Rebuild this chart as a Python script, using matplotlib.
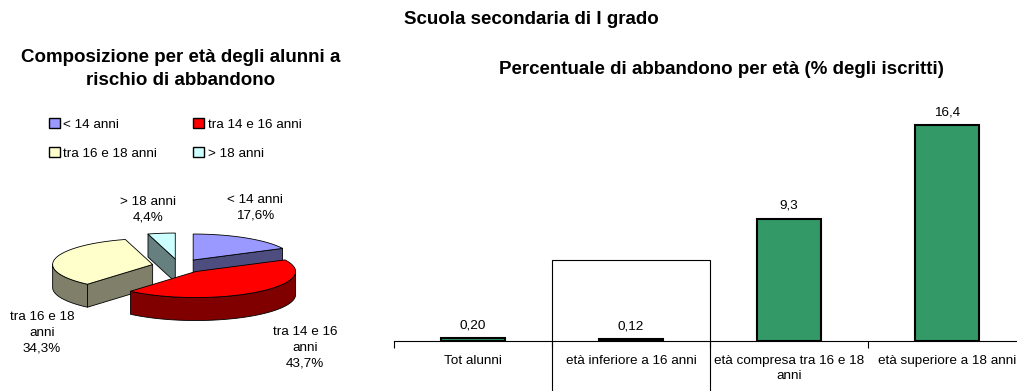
import matplotlib.pyplot as plt
from matplotlib.patches import Polygon, Patch, Rectangle
import numpy as np

plt.rcParams['font.family'] = ['Liberation Sans', 'DejaVu Sans']

# age composition of pupils at risk of dropping out
age_groups = ["< 14 anni", "tra 14 e 16 anni", "tra 16 e 18 anni", "> 18 anni"]
age_names = ["< 14 anni", "tra 14 e 16\nanni", "tra 16 e 18\nanni", "> 18 anni"]
age_shares = [17.6, 43.7, 34.3, 4.4]

# dropout rate by age (% of enrolled)
rate_cats = ["Tot alunni", "età inferiore a 16 anni",
             "età compresa tra 16 e 18\nanni", "età superiore a 18 anni"]
rate_values = [0.20, 0.12, 9.3, 16.4]
rate_labels = ["0,20", "0,12", "9,3", "16,4"]

top_colors = ["#9999FF", "#FF0000", "#FFFFCC", "#CCFFFF"]
side_colors = ["#4D4D80", "#800000", "#80806A", "#668080"]
bar_color = "#339966"

W, H = 1017, 391
SMALL = 9.7
TITLE = 13.5
fig = plt.figure(figsize=(W / 100, H / 100), dpi=100)

# ---- 3D exploded pie, drawn in pixel units ----
ax_pie = fig.add_axes([0, 0, 0.37, 1])
ax_pie.set_xlim(0, 0.37 * W)
ax_pie.set_ylim(H, 0)
ax_pie.axis("off")

CX, CY = 179, 266      # pie centre
RX, RY = 100, 26       # tilted ellipse radii
DEPTH = 23
EXPLODE = 0.27


def proj(u, v, down=0.0):
    return CX + RX * u, CY - RY * v + down


shares = np.array(age_shares)
edges = np.concatenate([[0], np.cumsum(shares)]) / shares.sum() * 360
mids = (edges[:-1] + edges[1:]) / 2
order = sorted(range(len(shares)), key=lambda i: -np.cos(np.radians(mids[i])))

poly_kw = dict(edgecolor="black", linewidth=0.6, joinstyle="round")
for i in order:
    t1, t2 = edges[i], edges[i + 1]
    m = np.radians(mids[i])
    ou, ov = EXPLODE * np.sin(m), EXPLODE * np.cos(m)

    def rim(t, down=0.0):
        r = np.radians(t)
        return proj(ou + np.sin(r), ov + np.cos(r), down)

    apex_t = proj(ou, ov)
    apex_b = proj(ou, ov, DEPTH)

    # radial cut faces facing the viewer
    if np.sin(np.radians(t1)) < -1e-6:
        ax_pie.add_patch(Polygon([apex_t, rim(t1), rim(t1, DEPTH), apex_b],
                                 facecolor=side_colors[i], **poly_kw))
    if np.sin(np.radians(t2)) > 1e-6:
        ax_pie.add_patch(Polygon([apex_t, rim(t2), rim(t2, DEPTH), apex_b],
                                 facecolor=side_colors[i], **poly_kw))

    # front part of the outer wall
    w1, w2 = max(t1, 90), min(t2, 270)
    if w2 > w1:
        ts = np.linspace(w1, w2, 60)
        wall = [rim(t) for t in ts] + [rim(t, DEPTH) for t in ts[::-1]]
        ax_pie.add_patch(Polygon(wall, facecolor=side_colors[i], **poly_kw))

    # top face
    ts = np.linspace(t1, t2, 80)
    top = [apex_t] + [rim(t) for t in ts]
    ax_pie.add_patch(Polygon(top, facecolor=top_colors[i], **poly_kw))

label_xy = [(255, 208), (305, 348), (42, 333), (148, 210)]
for name, share, (lx, ly) in zip(age_names, age_shares, label_xy):
    txt = f"{name}\n{share:.1f}%".replace(".", ",")
    ax_pie.text(lx, ly, txt, ha="center", va="center", fontsize=SMALL,
                linespacing=1.4)

# legend fills by column, so reorder to read across the rows
handles = [Patch(facecolor=c, edgecolor="black", linewidth=1.0) for c in top_colors]
leg_order = [0, 2, 1, 3]
fig.legend([handles[k] for k in leg_order], [age_groups[k] for k in leg_order],
           ncol=2, frameon=False, fontsize=SMALL,
           loc="upper left", bbox_to_anchor=(49 / W, 1 - 118 / H),
           borderpad=0, borderaxespad=0, handlelength=0.8, handleheight=0.8,
           handletextpad=0.25, columnspacing=2.7, labelspacing=1.2)

# ---- titles ----
fig.text(531 / W, 1 - 20 / H, "Scuola secondaria di I grado",
         ha="center", va="center", fontsize=TITLE, fontweight="bold")
fig.text(181 / W, 1 - 69 / H, "Composizione per età degli alunni a\nrischio di abbandono",
         ha="center", va="center", fontsize=TITLE, fontweight="bold", linespacing=1.4)
fig.text(721 / W, 1 - 70 / H, "Percentuale di abbandono per età (% degli iscritti)",
         ha="center", va="center", fontsize=TITLE, fontweight="bold")

# ---- dropout bar chart ----
ax = fig.add_axes([394 / W, 50 / H, 632 / W, 241 / H])
x = np.arange(len(rate_values))
bars = ax.bar(x, rate_values, width=0.4, color=bar_color,
              edgecolor="black", linewidth=1.5, zorder=3)
ax.bar_label(bars, labels=rate_labels, padding=5, fontsize=SMALL)

ax.set_xlim(-0.5, len(rate_values) - 0.5)
ax.set_ylim(0, 18.3)
for side in ["top", "right", "left"]:
    ax.spines[side].set_visible(False)
ax.spines["bottom"].set_linewidth(0.8)
ax.set_yticks([])

# boundary ticks between categories, labels centred on the bars
ax.set_xticks(x - 0.5)
ax.set_xticklabels([])
ax.tick_params(axis="x", which="major", length=5, width=0.8, direction="out")
ax.set_xticks(x, minor=True)
ax.set_xticklabels(rate_cats, minor=True, fontsize=SMALL, linespacing=1.4)
ax.tick_params(axis="x", which="minor", length=0, pad=10)

# frame around the under-16 category
ax.add_patch(Rectangle((0.5, -4.0), 1.0, 10.15, fill=False, edgecolor="black",
                       linewidth=0.8, clip_on=False, zorder=2))

fig.savefig("out.png", dpi=100)
